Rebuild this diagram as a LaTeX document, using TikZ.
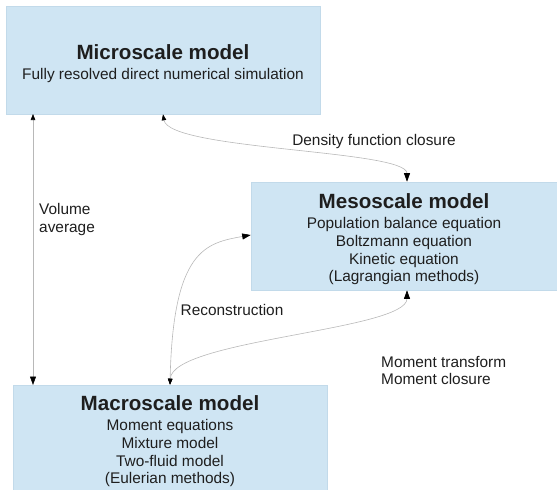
\documentclass[tikz,border=0pt]{standalone}
\usepackage{fontspec}
\setmainfont{Liberation Sans}
\usepackage{tikz}
\usetikzlibrary{positioning,arrows.meta}
\definecolor{cajafondo}{HTML}{CFE5F3}
\definecolor{cajaborde}{HTML}{C2DAEA}
\definecolor{flecha}{HTML}{B8B8B8}
\definecolor{texto}{HTML}{1E1E1E}
\tikzset{caja/.style={draw=cajaborde,fill=cajafondo,line width=0.6pt,align=center,text=texto,
    font=\fontsize{15.4}{17.6}\selectfont,inner sep=0pt}}
\tikzset{enlace/.style={draw=flecha,line width=0.6pt,
    {Triangle[length=6pt,width=4.5pt,color=black]}-{Triangle[length=8.5pt,width=6pt,color=black]}}}
\tikzset{etiqueta/.style={text=texto,font=\fontsize{15.4}{17.6}\selectfont,inner sep=0pt}}
\newcommand{\titulo}[1]{{\fontsize{20.6}{24}\selectfont\bfseries\rule{0pt}{21.5pt}#1}\\[2.5pt]}

\begin{document}
\begin{tikzpicture}[x=1pt,y=-1pt]
            \useasboundingbox (0,0) rectangle (557,490);
            \node[caja,minimum width=314pt,minimum height=108pt] (micro) at (163,60)
                {\titulo{Microscale model}Fully resolved direct numerical simulation};
            \node[caja,minimum width=306pt,minimum height=108pt] (meso) at (404,236)
                {\titulo{Mesoscale model}Population balance equation\\Boltzmann equation\\Kinetic equation\\(Lagrangian methods)};
            \node[caja,minimum width=314pt,minimum height=106pt] (macro) at (170,438)
                {\titulo{Macroscale model}Moment equations\\Mixture model\\Two-fluid model\\(Eulerian methods)};

            \coordinate (va1) at (33,114);
            \coordinate (va2) at (33,385);
            \coordinate (ms) at ([xshift=3pt]meso.south);
            \coordinate (mn) at ([xshift=3pt]meso.north);

            \draw[enlace] (va1) to (va2);
            \draw[enlace] (micro.south) .. controls +(6,36) and +(0,-32) .. (mn);
            \draw[enlace] (macro.north) .. controls +(3,-135) and +(-45,8) .. ([yshift=1pt]meso.west);
            \draw[enlace] (macro.north) .. controls +(2,-45) and +(0,40) .. (ms);

            \node[etiqueta,align=left,anchor=west] (lva) at (39,219.5) {Volume\\average};
            \node[etiqueta] (ldf) at (374,141.5) {Density function closure};
            \node[etiqueta] (lrc) at (232,310) {Reconstruction};
            \node[etiqueta,align=left,anchor=west] (lmt) at (381,370.5) {Moment transform\\Moment closure};
        \end{tikzpicture}
\end{document}
